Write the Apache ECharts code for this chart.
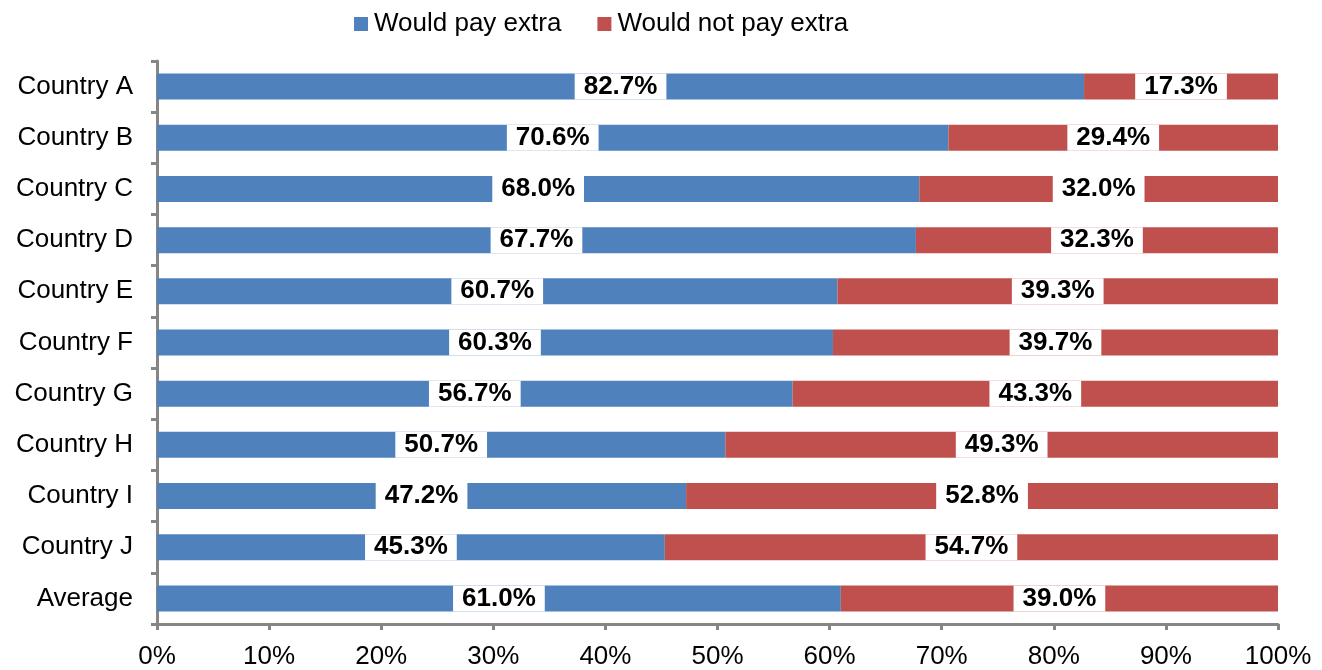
<!DOCTYPE html>
<html><head><meta charset="utf-8">
<script src="https://cdn.jsdelivr.net/npm/echarts@6/dist/echarts.min.js"></script>
<style>html,body{margin:0;padding:0;background:#fff}#c{width:1322px;height:670px}</style>
</head><body><div id="c"></div>
<script>
var categories = ["Country A","Country B","Country C","Country D","Country E","Country F","Country G","Country H","Country I","Country J","Average"];
var payExtra = [82.7,70.6,68.0,67.7,60.7,60.3,56.7,50.7,47.2,45.3,61.0];
var notPayExtra = [17.3,29.4,32.0,32.3,39.3,39.7,43.3,49.3,52.8,54.7,39.0];
var seriesNames = ["Would pay extra","Would not pay extra"];

var font = "Liberation Sans, Arial, sans-serif";
var lbl = {
  show:true, position:'inside', color:'#000', fontWeight:'bold', fontSize:26, fontFamily:font,
  backgroundColor:'#fff', padding:[0,9],
  formatter:function(p){return p.value.toFixed(1)+'%';}
};
var chart = echarts.init(document.getElementById('c'));
chart.setOption({
  animation:false,
  legend:{top:6,left:349,itemWidth:14,itemHeight:14,itemGap:36,icon:'rect',
    textStyle:{fontSize:26,fontFamily:font,color:'#000',padding:[0,0,0,1]},data:seriesNames},
  grid:{left:157,right:44,top:61,bottom:45,containLabel:false},
  xAxis:{type:'value',min:0,max:100,interval:10,
    axisLine:{show:true,lineStyle:{color:'#868686',width:3}},
    axisTick:{show:true,length:6,lineStyle:{color:'#868686',width:3}},
    splitLine:{show:false},
    axisLabel:{formatter:'{value}%',fontSize:26,fontFamily:font,color:'#000',margin:20}},
  yAxis:{type:'category',inverse:true,data:categories,
    axisLine:{show:true,lineStyle:{color:'#868686',width:3}},
    axisTick:{show:true,length:6,lineStyle:{color:'#868686',width:3}},
    axisLabel:{fontSize:26,fontFamily:font,color:'#000',margin:24}},
  series:[
    {name:seriesNames[0],type:'bar',stack:'a',data:payExtra,barWidth:26,
     itemStyle:{color:'#4f81bd'},label:lbl},
    {name:seriesNames[1],type:'bar',stack:'a',data:notPayExtra,barWidth:26,
     itemStyle:{color:'#c0504d'},label:lbl}
  ]
});
</script></body></html>
